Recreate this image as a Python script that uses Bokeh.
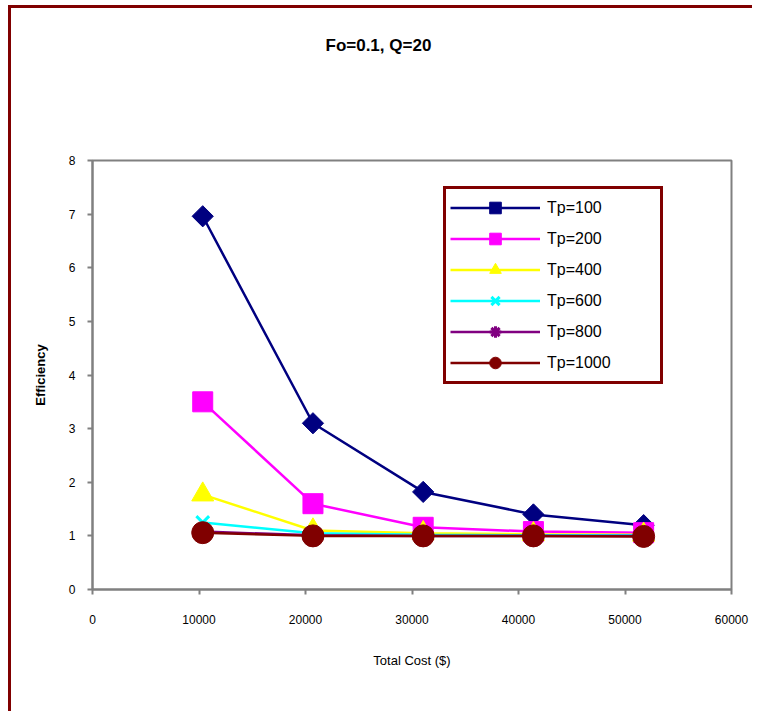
import math
from bokeh.plotting import figure
from bokeh.models import FixedTicker, Legend, LegendItem, Title
from bokeh.embed import file_html
from bokeh.resources import INLINE

# ---- data ----
total_cost = [10350, 20700, 31050, 41400, 51750]
series_names = ["Tp=100", "Tp=200", "Tp=400", "Tp=600", "Tp=800", "Tp=1000"]
eff_tp100 = [6.96, 3.10, 1.82, 1.40, 1.20]
eff_tp200 = [3.50, 1.60, 1.16, 1.08, 1.06]
eff_tp400 = [1.77, 1.10, 1.05, 1.03, 1.02]
eff_tp600 = [1.25, 1.05, 1.02, 1.01, 1.01]
eff_tp800 = [1.08, 1.01, 1.00, 1.00, 1.00]
eff_tp1000 = [1.06, 1.00, 1.00, 1.00, 0.99]
x_ticks = [0, 10000, 20000, 30000, 40000, 50000, 60000]
y_ticks = [0, 1, 2, 3, 4, 5, 6, 7, 8]
chart_title = "Fo=0.1, Q=20"

series_values = [eff_tp100, eff_tp200, eff_tp400, eff_tp600, eff_tp800, eff_tp1000]
colors = ["#000080", "#FF00FF", "#FFFF00", "#00FFFF", "#800080", "#800000"]
markers = ["square", "square", "triangle", "x", "asterisk", "circle"]
angles = [math.pi / 4, 0, 0, 0, 0, 0]
sizes = [15, 20, 22, 18, 18, 22]

FONT = "Liberation Sans"

p = figure(width=744, height=706, x_range=(0, 60000), y_range=(0, 8),
           output_backend="svg", toolbar_location=None,
           min_border_left=81, min_border_right=24,
           min_border_top=152, min_border_bottom=125)
p.margin = (5, 0, 0, 8)
p.styles = {"border-left": "3px solid #800000", "border-top": "3px solid #800000"}

xax = p.xaxis[0]
yax = p.yaxis[0]

# blank spacer between the frame and the chart title
p.add_layout(Title(text=" ", text_font_size="1px", standoff=98), "above")

p.title.text = chart_title
p.title.align = "left"
p.title.offset = 233
p.title.vertical_align = "bottom"
p.title.standoff = 10
p.title.text_font = FONT
p.title.text_font_size = "17px"
p.title.text_font_style = "bold"
p.title.text_color = "black"

p.xgrid.visible = False
p.ygrid.visible = False
p.outline_line_color = "#808080"
p.outline_line_width = 2

for ax in (xax, yax):
    ax.axis_line_color = "#808080"
    ax.axis_line_width = 2
    ax.major_tick_line_color = "#808080"
    ax.major_tick_line_width = 2
    ax.major_tick_out = 5
    ax.major_tick_in = 0
    ax.minor_tick_line_color = None
    ax.major_label_text_font = FONT
    ax.major_label_text_font_size = "12px"
    ax.major_label_text_color = "black"
    ax.axis_label_text_font = FONT
    ax.axis_label_text_font_size = "13px"
    ax.axis_label_text_font_style = "normal"
    ax.axis_label_text_color = "black"

xax.ticker = FixedTicker(ticks=x_ticks)
yax.ticker = FixedTicker(ticks=y_ticks)
xax.axis_label = "Total Cost ($)"
xax.major_label_standoff = 20
xax.axis_label_standoff = 26
yax.axis_label = "Efficiency"
yax.axis_label_text_font_style = "bold"
yax.major_label_standoff = 12
yax.axis_label_standoff = 18

items = []
for name, vals, col, mk, ang, sz in zip(series_names, series_values, colors, markers, angles, sizes):
    lr = p.line(total_cost, vals, line_color=col, line_width=2.5)
    sr = p.scatter(total_cost, vals, marker=mk, size=sz, angle=ang,
                   fill_color=col, line_color=col, line_width=3 if mk in ("x", "asterisk") else 1)
    items.append(LegendItem(label=name, renderers=[lr, sr]))

legend = Legend(items=items, location=(351, 205))
legend.border_line_color = "#800000"
legend.border_line_alpha = 1
legend.border_line_width = 3
legend.background_fill_color = "white"
legend.background_fill_alpha = 1
legend.padding = 4
legend.spacing = 2
legend.glyph_height = 29
legend.label_height = 29
legend.glyph_width = 90
legend.label_width = 109
legend.label_standoff = 7
legend.label_text_font = FONT
legend.label_text_font_size = "16px"
legend.label_text_color = "black"
legend.margin = 0
p.add_layout(legend, "center")

open("out.html", "w").write(file_html(p, INLINE))
